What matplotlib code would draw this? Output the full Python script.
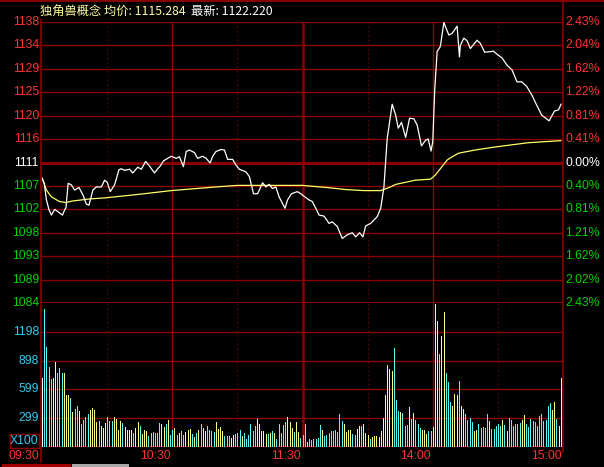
import matplotlib
matplotlib.use("Agg")
import matplotlib.pyplot as plt
from matplotlib.patches import Rectangle
from matplotlib.lines import Line2D
import matplotlib.transforms as mtransforms

plt.rcParams['font.family'] = ['Liberation Sans', 'Noto Sans CJK SC', 'DejaVu Sans']

# --- data (minute index from 09:30, 0..239) ---
price_t = [0, 1, 2, 3.2, 4.3, 5.8, 7.4, 9.4, 10.4, 11, 12, 13.5, 15, 17, 18.9, 20.4, 21.6,
           23.4, 25, 27.3, 28.8, 30, 31.4, 33.4, 35.4, 36.4, 38, 40.3, 41.8, 44.1, 45.7,
           47.7, 49.5, 51.8, 53.3, 54.4, 55.9, 57.9, 59.5, 61.8, 63.3, 65.1, 66.4, 67.9,
           70.2, 71.7, 74, 75.6, 77.4, 78.6, 80.1, 82.4, 84, 85.5, 87.8, 89.3, 90.9, 93.9,
           95.5, 97.4, 99.3, 101.6, 103.1, 104.6, 106.2, 107.7, 109.2, 111.9, 113.1, 114.9,
           117.6, 119.2, 120.7, 123, 124.5, 126.1, 127.6, 129.9, 132.2, 133.7, 136, 138.3,
           140.6, 142.9, 144.5, 146.3, 147.8, 149.1, 151.4, 154.4, 156, 157.5, 159, 161.3,
           162.9, 164.1, 165.6, 167.5, 169.3, 171.3, 172.8, 174.8, 176.7, 177.9, 179.2, 180,
           180.9, 182, 183.5, 185.1, 187.4, 188.9, 191.2, 192.3, 192.7, 194.3, 195.8, 197.3,
           200.4, 201.9, 203.9, 206.5, 208, 209.6, 211.9, 214.2, 216.5, 218.8, 221, 223.3,
           225.6, 227.9, 230.2, 233.6, 236.1, 237.9, 239.1]
price_v = [1108.0, 1107.0, 1103.8, 1101.9, 1100.9, 1102.0, 1101.5, 1100.9, 1101.9, 1102.3,
           1107.0, 1106.7, 1105.7, 1106.2, 1104.7, 1103.0, 1102.8, 1105.7, 1106.3, 1106.3,
           1107.6, 1107.2, 1105.4, 1106.7, 1109.6, 1109.8, 1109.5, 1109.7, 1109.0, 1110.1,
           1109.7, 1111.2, 1110.3, 1109.0, 1109.8, 1110.3, 1111.3, 1111.8, 1112.2, 1111.8,
           1112.1, 1110.2, 1113.1, 1113.4, 1112.9, 1111.8, 1112.2, 1111.8, 1110.9, 1112.2,
           1113.1, 1113.5, 1113.4, 1111.6, 1111.6, 1110.5, 1109.7, 1109.2, 1108.3, 1105.0,
           1105.0, 1107.1, 1106.3, 1106.8, 1106.0, 1106.3, 1104.4, 1102.2, 1103.8, 1105.0,
           1105.4, 1105.0, 1104.5, 1103.8, 1103.5, 1102.2, 1100.9, 1100.7, 1099.3, 1099.6,
           1098.7, 1096.4, 1097.1, 1097.5, 1096.7, 1097.5, 1096.7, 1098.8, 1099.3, 1100.6,
           1102.2, 1106.3, 1115.6, 1122.2, 1120.1, 1117.6, 1118.7, 1115.8, 1119.5, 1119.4,
           1118.2, 1114.2, 1115.3, 1115.5, 1113.2, 1115.0, 1124.9, 1132.3, 1133.3, 1137.9,
           1135.5, 1135.8, 1137.2, 1131.3, 1133.5, 1134.9, 1134.4, 1132.9, 1134.5, 1133.9,
           1132.2, 1132.3, 1132.4, 1131.8, 1131.1, 1129.7, 1128.8, 1126.5, 1126.5, 1125.6,
           1124.0, 1122.0, 1120.1, 1119.0, 1120.9, 1121.1, 1122.2]

avg_t = [0, 2, 4.3, 8, 11, 14, 22, 29, 45, 59.5, 80, 90, 120, 131, 140, 148, 156, 160.5,
         163, 172, 179, 181.2, 186.7, 188.9, 192, 199.5, 209, 224, 239]
avg_v = [1108.0, 1105.7, 1104.4, 1103.5, 1103.3, 1103.6, 1104.0, 1104.2, 1104.9, 1105.6,
         1106.3, 1106.6, 1106.6, 1106.2, 1105.8, 1105.6, 1105.6, 1106.3, 1106.8, 1107.6,
         1107.8, 1108.6, 1111.5, 1112.1, 1112.8, 1113.4, 1114.0, 1114.8, 1115.2]

volume = [714, 1431, 1038, 829, 704, 714, 881, 767, 819, 767,
          767, 537, 537, 506, 360, 391, 422, 370, 235, 276,
          308, 339, 381, 402, 381, 256, 266, 214, 193, 245,
          308, 266, 266, 308, 287, 172, 266, 245, 203, 172,
          172, 172, 141, 193, 256, 214, 130, 172, 162, 110,
          141, 151, 141, 141, 245, 235, 203, 235, 276, 120,
          172, 193, 120, 141, 162, 120, 151, 172, 183, 130,
          99, 141, 172, 235, 193, 162, 214, 172, 162, 151,
          256, 183, 203, 162, 110, 110, 110, 89, 120, 130,
          141, 172, 110, 141, 78, 120, 235, 162, 214, 287,
          235, 162, 162, 130, 130, 141, 162, 141, 78, 235,
          141, 224, 256, 308, 256, 193, 151, 256, 151, 89,
          120, 235, 57, 78, 68, 78, 78, 89, 224, 172,
          110, 120, 141,
          162, 162, 172, 151, 339, 266, 235, 151, 172, 172,
          130, 120, 183, 214, 214, 235, 141, 120, 78, 99,
          110, 110, 99, 162, 297, 537, 850, 808, 787, 1027,
          485, 370, 360, 349, 214, 224, 412, 287, 349, 276,
          235, 193, 172, 172, 130, 162, 162, 203, 1486, 1310,
          965, 1153, 1403, 767, 673, 464, 422, 548, 537, 683,
          422, 391, 339, 276, 297, 256, 162, 172, 235, 193,
          203, 193, 339, 266, 183, 183, 214, 235, 214, 276,
          224, 162, 297, 276, 214, 235, 235, 245, 276, 329,
          235, 203, 287, 266, 256, 214, 318, 339, 266, 276,
          422, 453, 381, 464, 287, 214, 714]
# u = price up (yellow), d = down (cyan), n = opening bar
vol_dir = "".join([
    "ndddduuddd", "uuududdudd", "dduuuuduuu", "ddduuuuduu", "uuduuduuud",
    "ddddduudud", "dududduuud", "ududuudddd", "uuuuddduud", "dduddddddu",
    "uuuudududd", "ddduuuduud", "dduddddddu", "ddd",
    "dddddduuuu", "dduuduuudu", "uuuuuuuuud", "ddudddudud", "dduuudduuu",
    "duuddduuud", "uudddduudd", "dddudddddu", "dudddddduu", "dddddddddd",
    "dduuduu",
])
assert len(vol_dir) == len(volume) == 240

left_ticks = [1138, 1133.5, 1129, 1124.5, 1120, 1115.5, 1111, 1106.5, 1102, 1097.5, 1093, 1088.5, 1084]
left_labels = ["1138", "1134", "1129", "1125", "1120", "1116", "1111", "1107", "1102", "1098",
               "1093", "1089", "1084"]
right_labels = ["2.43%", "2.04%", "1.62%", "1.22%", "0.81%", "0.41%", "0.00%", "0.40%", "0.81%",
                "1.21%", "1.62%", "2.02%", "2.43%"]
vol_ticks = [1198, 898.5, 599, 299.5]
vol_labels = ["1198", "898", "599", "299"]
time_pos = [-0.5, 60, 120, 180, 240]
time_labels = ["09:30", "10:30", "11:30", "14:00", "15:00"]
base = 1111

title_a = "独角兽概念 均价: 1115.284"
title_b = "最新: 1122.220"

# --- figure ---
W, H = 604, 467
GRID = '#8a0000'
RED, GREEN, CYAN = '#ff3333', '#00d400', '#33c8f0'
fig = plt.figure(figsize=(W / 100, H / 100), dpi=100, facecolor='black')
ax_p = fig.add_axes([41 / W, 1 - 303 / H, 522 / W, 281 / H], facecolor='black')
ax_v = fig.add_axes([41 / W, 1 - 447 / H, 522 / W, 144 / H], facecolor='black')
for ax in (ax_p, ax_v):
    ax.set_xlim(-0.5, 240)
    ax.set_xticks([])
    ax.set_yticks([])
    for s in ax.spines.values():
        s.set_visible(False)
    for m in (60, 180):
        ax.axvline(m, color=GRID, lw=1.0)
    ax.axvline(120, color=GRID, lw=1.8)
    for m in (30, 90, 150, 210):
        ax.axvline(m, color=GRID, lw=0.8, ls=(0, (1, 3)))

ax_p.set_ylim(1084, 1138)
ax_v.set_ylim(0, 1497.5)

tr_p = mtransforms.blended_transform_factory(ax_p.transAxes, ax_p.transData)
for v, l, r in zip(left_ticks, left_labels, right_labels):
    thick = v in (base, 1084)
    ax_p.axhline(v, color=GRID, lw=2.2 if thick else 1.0, zorder=1)
    col = RED if v > base else (GREEN if v < base else 'white')
    ax_p.text(-0.004, v, l, transform=tr_p, ha='right', va='center', color=col, fontsize=8.8)
    ax_p.text(1.004, v, r, transform=tr_p, ha='left', va='center', color=col, fontsize=8.8)

ax_p.plot(avg_t, avg_v, color='#ffff66', lw=0.9, zorder=3)
ax_p.plot(price_t, price_v, color='white', lw=0.9, zorder=4)

tr_v = mtransforms.blended_transform_factory(ax_v.transAxes, ax_v.transData)
for v, l in zip(vol_ticks, vol_labels):
    ax_v.axhline(v, color=GRID, lw=1.0, zorder=1)
    ax_v.text(-0.004, v, l, transform=tr_v, ha='right', va='center', color=CYAN, fontsize=8.8)
ax_v.axhline(0, color=GRID, lw=1.4, zorder=1)

bar_colors = {'u': '#ffff80', 'd': '#55fafa', 'n': '#ffffff'}
ax_v.vlines(range(len(volume)), 0, volume, colors=[bar_colors[c] for c in vol_dir],
            lw=0.6, antialiased=False, zorder=3)

tr_t = mtransforms.blended_transform_factory(ax_v.transData, ax_v.transAxes)
for m, l in zip(time_pos, time_labels):
    ax_v.text(m - 0.8, -0.065, l, transform=tr_t, ha='right', va='center', color=RED, fontsize=8.8)

# frame lines
fig.add_artist(Line2D([0, 1], [1 - 0.5 / H, 1 - 0.5 / H], color=GRID, lw=1.4))
fig.add_artist(Line2D([41 / W, 41 / W], [1 - 20 / H, 1 - 462 / H], color=GRID, lw=1.2))
fig.add_artist(Line2D([563 / W, 563 / W], [1, 1 - 452 / H], color=GRID, lw=1.2))

# X100 box
fig.add_artist(Rectangle((10 / W, 1 - 448 / H), 29 / W, 14 / H, fill=False, edgecolor=GRID, lw=1.0))
fig.text(24.5 / W, 1 - 441 / H, "X100", ha='center', va='center', color=CYAN, fontsize=8.8)

# scroll bar
fig.add_artist(Rectangle((2 / W, 0), 69 / W, 3.5 / H, color='#a00000', lw=0))
fig.add_artist(Rectangle((72 / W, 0), 57 / W, 3.5 / H, color='#a8a8a8', lw=0))

# title
fig.text(40 / W, 1 - 11 / H, title_a, ha='left', va='center', color='#ffffa0', fontsize=8.8,
         family=['Noto Sans CJK SC', 'DejaVu Sans'])
fig.text(191 / W, 1 - 11 / H, title_b, ha='left', va='center', color='white', fontsize=8.8,
         family=['Noto Sans CJK SC', 'DejaVu Sans'])

fig.savefig("out.png", dpi=100, facecolor='black')
